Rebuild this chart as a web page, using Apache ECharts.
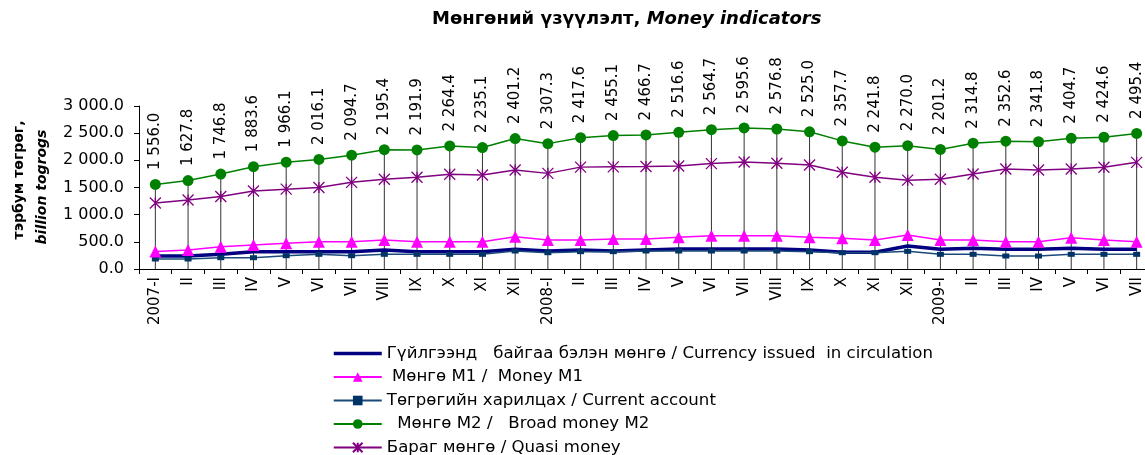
<!DOCTYPE html>
<html>
<head>
<meta charset="utf-8">
<script src="https://cdn.jsdelivr.net/npm/echarts@6/dist/echarts.min.js"></script>
<style>
  html, body { margin: 0; padding: 0; background: #fff; }
  #chart { width: 1145px; height: 455px; }
</style>
</head>
<body>
<div id="chart"></div>
<script>
// Сар (categories)
const categories = ['2007-I', 'II', 'III', 'IV', 'V', 'VI', 'VII', 'VIII', 'IX', 'X', 'XI', 'XII',
    '2008-I', 'II', 'III', 'IV', 'V', 'VI', 'VII', 'VIII', 'IX', 'X', 'XI', 'XII',
    '2009-I', 'II', 'III', 'IV', 'V', 'VI', 'VII'];

// Гүйлгээнд байгаа бэлэн мөнгө
const currency = [239, 239, 270, 319, 319, 319, 319, 350, 319, 319, 319, 362,
    331, 350, 331, 350, 368, 368, 368, 368, 350, 307, 307, 423,
    362, 380, 362, 362, 380, 362, 362];

// Мөнгө М1
const moneyM1 = [320, 350, 411, 442, 473, 503, 503, 534, 503, 503, 503, 595,
    534, 534, 552, 552, 583, 614, 614, 614, 583, 564, 534, 626,
    534, 534, 503, 503, 577, 534, 503];

// Төгрөгийн харилцах
const currentAccount = [184, 184, 208, 208, 245, 270, 245, 270, 270, 270, 270, 331,
    300, 319, 319, 331, 331, 331, 331, 331, 319, 300, 300, 325,
    270, 270, 239, 239, 270, 270, 270];

// Мөнгө М2
const moneyM2 = [1556.0, 1627.8, 1746.8, 1883.6, 1966.1, 2016.1, 2094.7, 2195.4, 2191.9, 2264.4, 2235.1, 2401.2,
    2307.3, 2417.6, 2455.1, 2466.7, 2516.6, 2564.7, 2595.6, 2576.8, 2525.0, 2357.7, 2241.8, 2270.0,
    2201.2, 2314.8, 2352.6, 2341.8, 2404.7, 2424.6, 2495.4];

// Бараг мөнгө
const quasiMoney = [1215, 1270, 1335, 1436, 1470, 1500, 1595, 1651, 1688, 1743, 1730, 1822,
    1760, 1875, 1880, 1885, 1895, 1940, 1970, 1945, 1915, 1780, 1690, 1635,
    1651, 1749, 1841, 1822, 1841, 1872, 1963];

const yTicks = [0, 500, 1000, 1500, 2000, 2500, 3000];

const FONT = '"DejaVu Sans", Verdana, sans-serif';

const names = [
    'Гүйлгээнд   байгаа бэлэн мөнгө / Currency issued  in circulation',
    ' Мөнгө М1 /  Money M1',
    'Төгрөгийн харилцах / Current account',
    '  Мөнгө М2 /   Broad money M2',
    'Бараг мөнгө / Quasi money'
];

// 1 556.0 хэлбэрээр
function fmt(v) {
    const parts = Number(v).toFixed(1).split('.');
    return parts[0].replace(/\B(?=(\d{3})+(?!\d))/g, ' ') + '.' + parts[1];
}

const chart = echarts.init(document.getElementById('chart'));

chart.setOption({
    animation: false,
    backgroundColor: '#ffffff',
    textStyle: { fontFamily: FONT, color: '#000' },
    title: {
        left: 432,
        top: 10,
        padding: 0,
        text: '{a|Мөнгөний үзүүлэлт, }{b|Money indicators}',
        textStyle: {
            rich: {
                a: { fontFamily: FONT, fontSize: 18, fontWeight: 'bold', color: '#000' },
                b: { fontFamily: FONT, fontSize: 18, fontWeight: 'bold', fontStyle: 'italic', color: '#000' }
            }
        }
    },
    graphic: [
        {
            type: 'text',
            x: 12, y: 180,
            rotation: Math.PI / 2,
            style: {
                text: 'тэрбум төгрөг,',
                fill: '#000',
                font: 'bold 14px ' + FONT,
                align: 'center',
                verticalAlign: 'top'
            }
        },
        {
            type: 'text',
            x: 35, y: 187,
            rotation: Math.PI / 2,
            style: {
                text: 'billion togrogs',
                fill: '#000',
                font: 'italic bold 14px ' + FONT,
                align: 'center',
                verticalAlign: 'top'
            }
        }
    ],
    legend: {
        orient: 'vertical',
        left: 332,
        top: 345,
        padding: 0,
        height: 120,
        itemWidth: 48,
        itemHeight: 12,
        itemGap: 6.5,
        textStyle: { fontFamily: FONT, fontSize: 16.6, color: '#000' },
        data: [
            { name: names[0], itemStyle: { opacity: 0 }, lineStyle: { width: 3.5 } },
            { name: names[1] },
            { name: names[2] },
            { name: names[3] },
            { name: names[4] }
        ]
    },
    grid: {
        left: 139,
        top: 106,
        bottom: 186,
        width: 1014,
        containLabel: false,
        outerBoundsMode: 'none'
    },
    xAxis: {
        type: 'category',
        data: categories,
        boundaryGap: true,
        axisLine: { lineStyle: { color: '#000', width: 1 } },
        axisTick: { show: true, length: 5, lineStyle: { color: '#000' } },
        axisLabel: {
            rotate: 90,
            interval: 0,
            margin: 8,
            fontFamily: FONT,
            fontSize: 15,
            color: '#000'
        }
    },
    yAxis: {
        type: 'value',
        min: 0,
        max: 3000,
        interval: 500,
        axisLine: { show: true, lineStyle: { color: '#000', width: 1 } },
        axisTick: { show: true, length: 5, lineStyle: { color: '#000' } },
        splitLine: { show: false },
        axisLabel: {
            fontFamily: FONT,
            fontSize: 16,
            color: '#000',
            margin: 15,
            formatter: function (v) {
                return yTicks.indexOf(v) >= 0 ? fmt(v) : '';
            }
        }
    },
    series: [
        {
            // буулгах шугам (drop lines)
            name: 'drop',
            type: 'bar',
            data: moneyM2,
            barWidth: 1,
            itemStyle: { color: '#333' },
            z: 1,
            silent: true
        },
        {
            name: names[0],
            type: 'line',
            data: currency,
            symbol: 'none',
            lineStyle: { color: '#000080', width: 3.5 },
            itemStyle: { color: '#000080' },
            z: 3
        },
        {
            name: names[1],
            type: 'line',
            data: moneyM1,
            symbol: 'triangle',
            symbolSize: 12,
            lineStyle: { color: '#ff00ff', width: 1.5 },
            itemStyle: { color: '#ff00ff' },
            z: 4
        },
        {
            name: names[2],
            type: 'line',
            data: currentAccount,
            symbol: 'rect',
            symbolSize: [7, 5],
            lineStyle: { color: '#1a4a7a', width: 1.5 },
            itemStyle: { color: '#003366' },
            z: 3
        },
        {
            name: names[3],
            type: 'line',
            data: moneyM2,
            symbol: 'circle',
            symbolSize: 11,
            lineStyle: { color: '#008000', width: 1.5 },
            itemStyle: { color: '#008000' },
            label: {
                show: true,
                position: 'top',
                distance: 9,
                rotate: 90,
                align: 'left',
                verticalAlign: 'middle',
                fontFamily: FONT,
                fontSize: 15,
                color: '#000',
                formatter: function (p) { return fmt(p.value); }
            },
            z: 4
        },
        {
            name: names[4],
            type: 'line',
            data: quasiMoney,
            symbol: 'path://M0,0 L10,10 M10,0 L0,10 M5,0 L5,10',
            symbolSize: 11,
            lineStyle: { color: '#800080', width: 1.5 },
            itemStyle: { color: 'rgba(0,0,0,0)', borderColor: '#800080', borderWidth: 1.3 },
            z: 4
        }
    ]
});
</script>
</body>
</html>
